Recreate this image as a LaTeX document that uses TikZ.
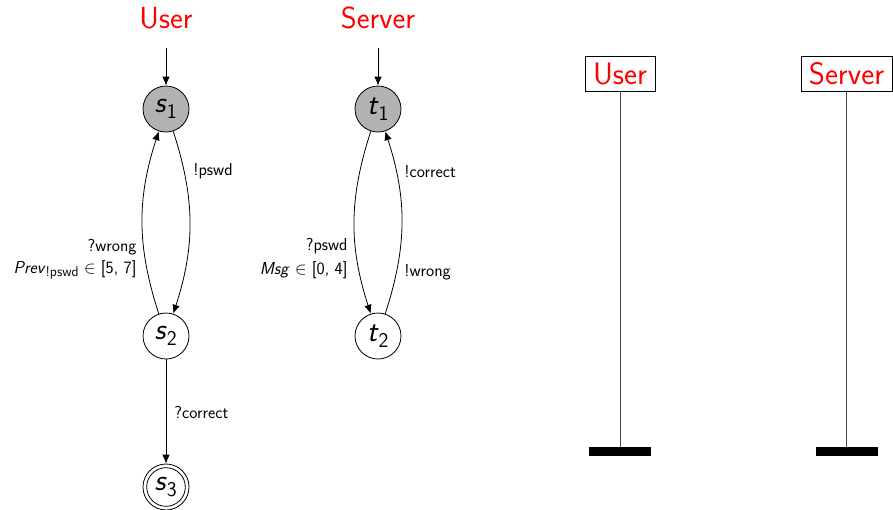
\documentclass[tikz,border=0pt]{standalone}
\usepackage{amsmath}
\usetikzlibrary{arrows.meta}
\newcommand{\stname}[2]{\textit{#1}$_{\textsf{#2}}$}
\newcommand{\labsub}[1]{\raisebox{-3.5pt}{\fontsize{14}{14}\selectfont #1}}
\begin{document}
\begin{tikzpicture}[x=1pt,y=-1pt,
  font=\sffamily,
  every path/.style={line width=0.8pt},
  tip/.style={-{Latex[length=9pt,width=7.5pt]}},
  title/.style={text=red,font=\sffamily\fontsize{30.5}{32}\selectfont,anchor=base,inner sep=0pt},
  state/.style={circle,draw,minimum size=46pt,inner sep=0pt,font=\sffamily\fontsize{30}{32}\selectfont},
  initial/.style={state,fill=black!30},
  lbl/.style={font=\sffamily\fontsize{17.3}{19}\selectfont,inner sep=0pt},
  actor/.style={draw,text=red,font=\sffamily\fontsize{31}{33}\selectfont,minimum height=35pt,inner sep=1pt},
  lifeline/.style={draw=black!70,line width=0.9pt},
  endbar/.style={fill=black,minimum width=62pt,minimum height=8.5pt,inner sep=0pt}]
\useasboundingbox (0,0) rectangle (893,509);

% automaton of the user
\node[title] (tu) at (166,28) {User};
\coordinate (u0) at (166,48);
\node[initial] (s1) at (166,109) {\stname{s}{1}};
\node[state] (s2) at (166,336) {\stname{s}{2}};
\node[state] (s3) at (166,487) {\stname{s}{3}};
\draw (s3) circle (19.3pt);
\draw[tip] (u0) -- (s1);
\draw[tip] (s1) to[out=-72,in=72] (s2);
\draw[tip] (s2) to[out=108,in=-108] (s1);
\draw[tip] (s2) -- (s3);
\node[lbl,anchor=west] (lpswd) at (193,171) {!pswd};
\node[lbl,anchor=east] (lwrong) at (137,247) {?wrong};
\node[lbl,anchor=east] (lprev) at (137,270) {\textit{Prev}\labsub{!pswd} $\in$ [5, 7]};
\node[lbl,anchor=west] (lcorr) at (174,412) {?correct};

% automaton of the server
\node[title] (ts) at (378,28) {Server};
\coordinate (t0) at (378,48);
\node[initial] (t1) at (378,109) {\stname{t}{1}};
\node[state] (t2) at (378,336) {\stname{t}{2}};
\draw[tip] (t0) -- (t1);
\draw[tip] (t1) to[out=-108,in=108] (t2);
\draw[tip] (t2) to[out=72,in=-72] (t1);
\node[lbl,anchor=west] (lcorrect) at (404,172) {!correct};
\node[lbl,anchor=west] (lwrongs) at (404,272) {!wrong};
\node[lbl,anchor=east] (lpswds) at (348,246) {?pswd};
\node[lbl,anchor=east] (lmsg) at (348,270) {\textit{Msg} $\in$ [0, 4]};

% lifelines
\node[actor,minimum width=70pt] (au) at (620,73.5) {User};
\node[actor,minimum width=91pt] (as) at (846.5,73.5) {Server};
\node[endbar] (bu) at (620,451.5) {};
\node[endbar] (bs) at (846.5,451.5) {};
\draw[lifeline] (au.south) -- (bu.north);
\draw[lifeline] (as.south) -- (bs.north);
\end{tikzpicture}
\end{document}
